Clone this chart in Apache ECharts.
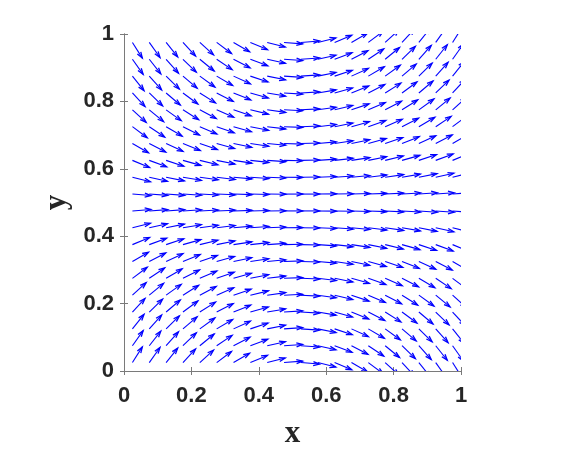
<!DOCTYPE html>
<html>
<head>
<meta charset="utf-8">
<script src="https://cdn.jsdelivr.net/npm/echarts@6/dist/echarts.min.js"></script>
<style>
  html, body { margin: 0; padding: 0; background: #fff; }
  #main { width: 566px; height: 454px; }
</style>
</head>
<body>
<div id="main"></div>
<script>
// grid positions of the arrow tails
const xs = [0.025, 0.075, 0.125, 0.175, 0.225, 0.275, 0.325, 0.375, 0.425, 0.475,
            0.525, 0.575, 0.625, 0.675, 0.725, 0.775, 0.825, 0.875, 0.925, 0.975];
const ys = [0.025, 0.075, 0.125, 0.175, 0.225, 0.275, 0.325, 0.375, 0.425, 0.475,
            0.525, 0.575, 0.625, 0.675, 0.725, 0.775, 0.825, 0.875, 0.925, 0.975];

// arrow slope dy/dx, one row per y (bottom row first)
const slopes = [
  [1.58, 1.41, 1.25, 1.08, 0.91, 0.75, 0.58, 0.42, 0.25, 0.08, -0.08, -0.25, -0.42, -0.58, -0.75, -0.91, -1.08, -1.25, -1.41, -1.58],
  [1.41, 1.26, 1.12, 0.97, 0.82, 0.67, 0.52, 0.37, 0.22, 0.07, -0.07, -0.22, -0.37, -0.52, -0.67, -0.82, -0.97, -1.12, -1.26, -1.41],
  [1.25, 1.12, 0.98, 0.85, 0.72, 0.59, 0.46, 0.33, 0.20, 0.07, -0.07, -0.20, -0.33, -0.46, -0.59, -0.72, -0.85, -0.98, -1.12, -1.25],
  [1.08, 0.97, 0.85, 0.74, 0.63, 0.51, 0.40, 0.28, 0.17, 0.06, -0.06, -0.17, -0.28, -0.40, -0.51, -0.63, -0.74, -0.85, -0.97, -1.08],
  [0.91, 0.82, 0.72, 0.63, 0.53, 0.43, 0.34, 0.24, 0.14, 0.05, -0.05, -0.14, -0.24, -0.34, -0.43, -0.53, -0.63, -0.72, -0.82, -0.91],
  [0.75, 0.67, 0.59, 0.51, 0.43, 0.35, 0.28, 0.20, 0.12, 0.04, -0.04, -0.12, -0.20, -0.28, -0.35, -0.43, -0.51, -0.59, -0.67, -0.75],
  [0.58, 0.52, 0.46, 0.40, 0.34, 0.28, 0.21, 0.15, 0.09, 0.03, -0.03, -0.09, -0.15, -0.21, -0.28, -0.34, -0.40, -0.46, -0.52, -0.58],
  [0.42, 0.37, 0.33, 0.28, 0.24, 0.20, 0.15, 0.11, 0.07, 0.02, -0.02, -0.07, -0.11, -0.15, -0.20, -0.24, -0.28, -0.33, -0.37, -0.42],
  [0.25, 0.22, 0.20, 0.17, 0.14, 0.12, 0.09, 0.07, 0.04, 0.01, -0.01, -0.04, -0.07, -0.09, -0.12, -0.14, -0.17, -0.20, -0.22, -0.25],
  [0.08, 0.07, 0.07, 0.06, 0.05, 0.04, 0.03, 0.02, 0.01, 0.00, 0.00, -0.01, -0.02, -0.03, -0.04, -0.05, -0.06, -0.07, -0.07, -0.08],
  [-0.08, -0.07, -0.07, -0.06, -0.05, -0.04, -0.03, -0.02, -0.01, 0.00, 0.00, 0.01, 0.02, 0.03, 0.04, 0.05, 0.06, 0.07, 0.07, 0.08],
  [-0.25, -0.22, -0.20, -0.17, -0.14, -0.12, -0.09, -0.07, -0.04, -0.01, 0.01, 0.04, 0.07, 0.09, 0.12, 0.14, 0.17, 0.20, 0.22, 0.25],
  [-0.42, -0.37, -0.33, -0.28, -0.24, -0.20, -0.15, -0.11, -0.07, -0.02, 0.02, 0.07, 0.11, 0.15, 0.20, 0.24, 0.28, 0.33, 0.37, 0.42],
  [-0.58, -0.52, -0.46, -0.40, -0.34, -0.28, -0.21, -0.15, -0.09, -0.03, 0.03, 0.09, 0.15, 0.21, 0.28, 0.34, 0.40, 0.46, 0.52, 0.58],
  [-0.75, -0.67, -0.59, -0.51, -0.43, -0.35, -0.28, -0.20, -0.12, -0.04, 0.04, 0.12, 0.20, 0.28, 0.35, 0.43, 0.51, 0.59, 0.67, 0.75],
  [-0.91, -0.82, -0.72, -0.63, -0.53, -0.43, -0.34, -0.24, -0.14, -0.05, 0.05, 0.14, 0.24, 0.34, 0.43, 0.53, 0.63, 0.72, 0.82, 0.91],
  [-1.08, -0.97, -0.85, -0.74, -0.63, -0.51, -0.40, -0.28, -0.17, -0.06, 0.06, 0.17, 0.28, 0.40, 0.51, 0.63, 0.74, 0.85, 0.97, 1.08],
  [-1.25, -1.12, -0.98, -0.85, -0.72, -0.59, -0.46, -0.33, -0.20, -0.07, 0.07, 0.20, 0.33, 0.46, 0.59, 0.72, 0.85, 0.98, 1.12, 1.25],
  [-1.41, -1.26, -1.12, -0.97, -0.82, -0.67, -0.52, -0.37, -0.22, -0.07, 0.07, 0.22, 0.37, 0.52, 0.67, 0.82, 0.97, 1.12, 1.26, 1.41],
  [-1.58, -1.41, -1.25, -1.08, -0.91, -0.75, -0.58, -0.42, -0.25, -0.08, 0.08, 0.25, 0.42, 0.58, 0.75, 0.91, 1.08, 1.25, 1.41, 1.58]
];

const arrowLen = 0.055; // length of every arrow, in axis units

var quiverData = [];
for (var j = 0; j < ys.length; j++) {
  for (var i = 0; i < xs.length; i++) {
    quiverData.push([xs[i], ys[j], slopes[j][i]]);
  }
}

var axisColor = '#7a7a7a';
var labelFont = {
  color: '#262626',
  fontSize: 22,
  fontWeight: 'bold',
  fontFamily: 'Liberation Sans, Arial, Helvetica, sans-serif'
};
var nameFont = {
  color: '#262626',
  fontSize: 31,
  fontWeight: 'bold',
  fontFamily: 'Liberation Serif, Times New Roman, serif'
};

function makeAxis(extra) {
  return Object.assign({
    type: 'value',
    min: 0,
    max: 1,
    interval: 0.2,
    splitLine: { show: false },
    axisLine: { show: true, lineStyle: { color: axisColor, width: 1 } },
    axisTick: { show: true, inside: true, length: 4, lineStyle: { color: axisColor, width: 1 } }
  }, extra);
}

var myChart = echarts.init(document.getElementById('main'), null, { renderer: 'canvas' });
myChart.setOption({
  animation: false,
  backgroundColor: '#ffffff',
  grid: { left: 124, top: 34, width: 337, height: 337, containLabel: false },
  xAxis: [
    makeAxis({
      position: 'bottom',
      name: 'x',
      nameLocation: 'middle',
      nameGap: 47,
      nameTextStyle: nameFont,
      axisLabel: Object.assign({ margin: 14 }, labelFont)
    }),
    makeAxis({ position: 'top', axisLabel: { show: false } })
  ],
  yAxis: [
    makeAxis({
      position: 'left',
      name: 'y',
      nameLocation: 'middle',
      nameGap: 51,
      nameRotate: 90,
      nameTextStyle: nameFont,
      axisLabel: Object.assign({ margin: 10 }, labelFont)
    }),
    makeAxis({ position: 'right', axisLabel: { show: false } })
  ],
  series: [{
    type: 'custom',
    xAxisIndex: 0,
    yAxisIndex: 0,
    clip: true,
    encode: { x: 0, y: 1 },
    data: quiverData,
    renderItem: function (params, api) {
      var x = api.value(0), y = api.value(1), s = api.value(2);
      var u = arrowLen / Math.sqrt(1 + s * s);
      var v = s * u;
      var p0 = api.coord([x, y]);
      var p1 = api.coord([x + u, y + v]);
      var dx = p1[0] - p0[0], dy = p1[1] - p0[1];
      // arrowhead like matlab quiver: alpha = beta = 0.33
      var a = 0.33, b = 0.33;
      var h1 = [p1[0] - a * (dx + b * dy), p1[1] - a * (dy - b * dx)];
      var h2 = [p1[0] - a * (dx - b * dy), p1[1] - a * (dy + b * dx)];
      return {
        type: 'group',
        children: [
          { type: 'line', shape: { x1: p0[0], y1: p0[1], x2: p1[0], y2: p1[1] },
            style: { stroke: '#0000ff', lineWidth: 1.1 } },
          { type: 'polyline', shape: { points: [h1, p1, h2] },
            style: { stroke: '#0000ff', fill: null, lineWidth: 1.3 } }
        ]
      };
    }
  }]
});
</script>
</body>
</html>
